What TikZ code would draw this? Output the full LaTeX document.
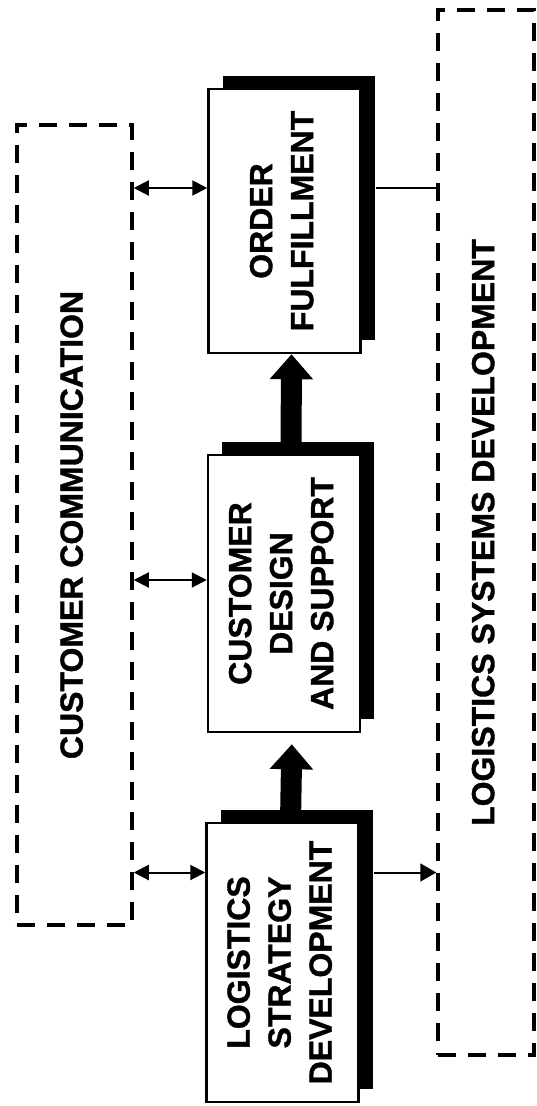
\documentclass[tikz,border=0pt]{standalone}
\usepackage{fontspec}
\setmainfont{Liberation Sans}[BoldFeatures={FakeBold=1.2}]
\usepackage{graphicx}
\usetikzlibrary{arrows.meta,shadows}

% text set sideways, reading from bottom to top
\newcommand{\sidetext}[1]{\rotatebox{90}{\begin{tabular}{@{}c@{}}#1\end{tabular}}}

\begin{document}
\begin{tikzpicture}[x=1pt,y=-1pt,
  labelfont/.style={font=\fontsize{32}{41}\selectfont\bfseries},
  stagebox/.style={draw,line width=2.5pt,fill=white,inner sep=0pt,
    minimum width=152pt,minimum height=#1,labelfont,
    drop shadow={shadow xshift=14pt,shadow yshift=13pt,opacity=1,fill=black}},
  areabox/.style={draw,line width=3.5pt,dash pattern=on 18pt off 12pt,
    inner sep=0pt,labelfont},
  flow/.style={line width=21pt,-{Triangle[length=25pt,width=42pt]}},
  link/.style={line width=2pt},
  twoway/.style={link,{Triangle[length=15pt,width=15pt]}-{Triangle[length=15pt,width=15pt]}},
  oneway/.style={link,-{Triangle[length=16pt,width=18pt]}}
]
\useasboundingbox (0,0) rectangle (536,1106);

% outer dashed areas
\node[areabox,minimum width=115pt,minimum height=800pt] (cc) at (74.5,525)
  {\sidetext{CUSTOMER COMMUNICATION}};
\node[areabox,minimum width=96pt,minimum height=1045pt] (lsd) at (486,532.5)
  {\sidetext{LOGISTICS SYSTEMS DEVELOPMENT}};

% process stages with offset shadows
\node[stagebox=264pt] (of) at (284.5,221)
  {\sidetext{ORDER\\FULFILLMENT}};
\node[stagebox=277pt] (cd) at (284,593.5)
  {\sidetext{CUSTOMER\\DESIGN\\AND SUPPORT}};
\node[stagebox=279pt] (ls) at (282.5,962.5)
  {\sidetext{LOGISTICS\\STRATEGY\\DEVELOPMENT}};

% main flow between stages
\draw[flow] ([xshift=7pt]cd.north) -- ([xshift=7pt]of.south);
\draw[flow,shorten >=11pt] ([xshift=8pt]ls.north) -- ([xshift=8pt]cd.south);

% links to customer communication
\coordinate (of-in) at ([yshift=33pt]of.west);
\coordinate (cd-in) at ([yshift=13.5pt]cd.west);
\coordinate (ls-in) at ([yshift=90pt]ls.west);
\draw[twoway] (cc.east |- of-in) -- (of-in);
\draw[twoway] (cc.east |- cd-in) -- (cd-in);
\draw[twoway] (cc.east |- ls-in) -- (ls-in);

% links to logistics systems development
\coordinate (of-out) at ([xshift=14pt,yshift=33pt]of.east);
\coordinate (ls-out) at ([xshift=14pt,yshift=90pt]ls.east);
\draw[link] (of-out) -- (lsd.west |- of-out);
\draw[oneway] (ls-out) -- (lsd.west |- ls-out);
\end{tikzpicture}
\end{document}
